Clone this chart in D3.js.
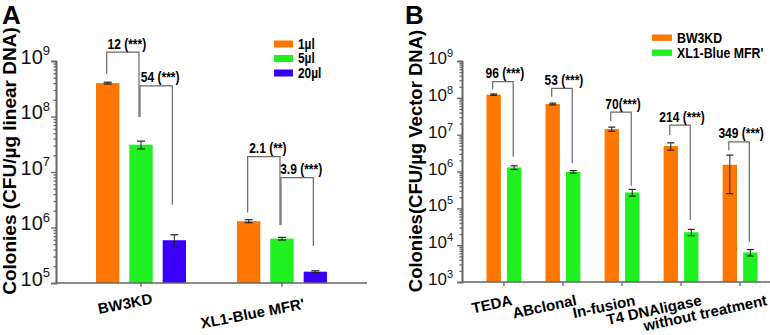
<!DOCTYPE html>
<html><head><meta charset="utf-8">
<script src="https://cdn.jsdelivr.net/npm/d3@7"></script>
<style>
body{margin:0;background:#fff;}
svg{display:block;}
text{font-family:"Liberation Sans",Arial,sans-serif;}
.nar{font-weight:bold;}
</style></head>
<body>
<svg id="c" width="770" height="335"></svg>
<script>
// ---------- Panel A data ----------
const catsA = ["BW3KD", "XL1-Blue MFR'"];
const seriesA = ["1µl", "5µl", "20µl"];
const valuesA = { "1µl": [4.0e8, 1.3e6], "5µl": [3.1e7, 6.3e5], "20µl": [5.9e5, 1.6e5] };
const errorsA = { "1µl": [1.5e7, 8e4], "5µl": [5e6, 3.5e4], "20µl": [1.5e5, 6e3] };
const colorsA = ["#ff7700", "#1ff01f", "#3a00ff"];
const yTicksA = [1e5, 1e6, 1e7, 1e8, 1e9];
// brackets: [label, cat, fromSeries, toSeries, topValue, leftEndValue, rightEndValue]
const bracketsA = [
  ["12 (***)", "BW3KD", "1µl", "5µl", 1.45e9, 5.9e8, 9.8e7],
  ["54 (***)", "BW3KD", "5µl", "20µl", 3.55e8, 9.8e7, 2.6e6],
  ["2.1 (**)", "XL1-Blue MFR'", "1µl", "5µl", 1.89e7, 1.86e6, 1.11e6],
  ["3.9 (***)", "XL1-Blue MFR'", "5µl", "20µl", 7.9e6, 1.11e6, 4.65e5]
];

// ---------- Panel B data ----------
const catsB = ["TEDA", "ABclonal", "In-fusion", "T4 DNAligase", "without treatment"];
const seriesB = ["BW3KD", "XL1-Blue MFR'"];
const valuesB = { "BW3KD": [1.22e8, 6.8e7, 1.42e7, 4.9e6, 1.52e6], "XL1-Blue MFR'": [1.28e6, 9.8e5, 2.7e5, 2.25e4, 6.35e3] };
const errorsB = { "BW3KD": [5e6, 4e6, 1.8e6, 1.1e6, 1.27e6], "XL1-Blue MFR'": [1.45e5, 8e4, 5.6e4, 4.3e3, 1.25e3] };
const colorsB = ["#ff7700", "#1ff01f"];
const yTicksB = [1e3, 1e4, 1e5, 1e6, 1e7, 1e8, 1e9];
const bracketsB = [
  ["96 (***)", "TEDA", 2.74e8, 1.71e8, 2.5e6],
  ["53 (***)", "ABclonal", 1.81e8, 1.07e8, 1.7e6],
  ["70(***)", "In-fusion", 4.1e7, 2.35e7, 4.1e5],
  ["214 (***)", "T4 DNAligase", 1.82e7, 9.8e6, 4.8e4],
  ["349 (***)", "without treatment", 6.4e6, 3.8e6, 1.23e4]
];

const svg = d3.select("#c");
const AX = "#666";

// condensed bold text drawn via a horizontal scale transform
function narrowText(g, x, y, f, fs, anchor, label) {
  return g.append("text").attr("class", "nar").attr("font-size", fs).attr("text-anchor", anchor)
    .attr("transform", `translate(${x},${y}) scale(${f},1)`).attr("fill", "#000").text(label);
}

function minorTicks(lo, hi) {
  const out = [];
  for (let e = Math.log10(lo); e < Math.log10(hi); e++)
    for (let m = 2; m <= 9; m++) out.push(m * Math.pow(10, e));
  return out;
}

function yAxis(g, y, x0, ticks, fs, ss, gap, base) {
  const ax = g.append("g").attr("transform", `translate(${x0},0)`);
  ax.call(d3.axisLeft(y).tickValues(ticks).tickSize(5).tickFormat(""));
  ax.append("g").call(d3.axisLeft(y).tickValues(minorTicks(ticks[0], ticks[ticks.length - 1])).tickSize(2.5).tickFormat(""));
  ax.selectAll("path,line").attr("stroke", AX).attr("stroke-width", 1.3);
  ax.selectAll(".domain").attr("stroke-width", 1.6);
  ticks.forEach(t => {
    const e = Math.round(Math.log10(t));
    const tx = g.append("text").attr("text-anchor", "end")
      .attr("x", x0 - gap).attr("y", y(t) + base).attr("font-size", fs).attr("fill", "#111");
    tx.append("tspan").text("10");
    tx.append("tspan").attr("font-size", ss).attr("dy", -fs * 0.42).text(e);
  });
}

function xAxis(g, x, y0, x1, cats, rot, yEndFn) {
  g.append("line").attr("x1", x.range()[0]).attr("x2", x1).attr("y1", y0).attr("y2", y0)
    .attr("stroke", AX).attr("stroke-width", 1.6);
  cats.forEach(c => {
    g.append("line").attr("x1", x(c)).attr("x2", x(c)).attr("y1", y0).attr("y2", y0 + 4)
      .attr("stroke", AX).attr("stroke-width", 1.3);
    const t = g.append("text").attr("font-size", 15).attr("font-weight", "bold")
      .attr("text-anchor", "end").attr("fill", "#000").text(c);
    const w = t.node().getComputedTextLength();
    t.attr("transform", `translate(${x(c) + 0.22 * w},${yEndFn(w)}) rotate(${rot})`);
  });
}

function errBar(g, cx, y, v, e, cap) {
  const col = "#222";
  g.append("line").attr("x1", cx).attr("x2", cx).attr("y1", y(v + e)).attr("y2", y(v - e)).attr("stroke", col).attr("stroke-width", 1);
  [v + e, v - e].forEach(q => g.append("line").attr("x1", cx - cap).attr("x2", cx + cap).attr("y1", y(q)).attr("y2", y(q)).attr("stroke", col).attr("stroke-width", 1.2));
}

function bracket(g, xl, xr, y, top, le, re, label, dx, fs) {
  const col = "#6a6a6a";
  g.append("path").attr("fill", "none").attr("stroke", col).attr("stroke-width", 1.2)
    .attr("d", `M${xl},${y(le)}V${y(top)}H${xr}V${y(re)}`);
  narrowText(g, (xl + xr) / 2 + dx, y(top) - 3.5, 0.8, fs, "middle", label);
}

// ================= Panel A =================
{
  const g = svg.append("g");
  const y = d3.scaleLog().domain([1e5, 1e9]).range([283, 61]);
  const x = d3.scalePoint().domain(catsA).range([56, 367]).padding(0.603);
  const xs = d3.scaleBand().domain(seriesA).range([-50, 50]).paddingInner(0.3).paddingOuter(0.15);
  const bw = xs.bandwidth();
  seriesA.forEach((s, si) => {
    catsA.forEach((c, ci) => {
      const v = valuesA[s][ci];
      g.append("rect").attr("x", x(c) + xs(s)).attr("width", bw)
        .attr("y", y(v)).attr("height", y(1e5) - y(v)).attr("fill", colorsA[si]);
    });
  });
  seriesA.forEach((s) => catsA.forEach((c, ci) =>
    errBar(g, x(c) + xs(s) + bw / 2, y, valuesA[s][ci], errorsA[s][ci], 4)));
  yAxis(g, y, 56, yTicksA, 20, 13, 6, 2.5);
  xAxis(g, x, 283, 367, catsA, -11, w => 283 + 15 + 0.1 * w);
  bracketsA.forEach(b => {
    const xl = x(b[1]) + xs(b[2]) + bw / 2, xr = x(b[1]) + xs(b[3]) + bw / 2;
    bracket(g, xl - 1, xr - 2, y, b[4], b[5], b[6], b[0], 4, 15);
  });
  // legend
  seriesA.forEach((s, i) => {
    const ly = 44 + i * 14.5;
    g.append("rect").attr("x", 274).attr("y", ly - 3.5).attr("width", 19).attr("height", 7).attr("fill", colorsA[i]);
    narrowText(g, 298, ly + 4.5, 0.85, 14, "start", s);
  });
  g.append("text").attr("font-size", 19).attr("font-weight", "bold").attr("text-anchor", "middle")
    .attr("transform", "translate(16,161) rotate(-90)").text("Colonies (CFU/µg linear DNA)");
  g.append("text").attr("font-size", 26).attr("font-weight", "bold").attr("x", 2).attr("y", 24).text("A");
}

// ================= Panel B =================
{
  const g = svg.append("g");
  const y = d3.scaleLog().domain([1e3, 1e9]).range([282, 61]);
  const x = d3.scalePoint().domain(catsB).range([462, 782]).padding(0.71);
  const xs = d3.scaleBand().domain(seriesB).range([-20.5, 20.5]).paddingInner(0.3).paddingOuter(0.15);
  const bw = xs.bandwidth();
  seriesB.forEach((s, si) => {
    catsB.forEach((c, ci) => {
      const v = valuesB[s][ci];
      g.append("rect").attr("x", x(c) + xs(s)).attr("width", bw)
        .attr("y", y(v)).attr("height", y(1e3) - y(v)).attr("fill", colorsB[si]);
    });
  });
  seriesB.forEach((s) => catsB.forEach((c, ci) =>
    errBar(g, x(c) + xs(s) + bw / 2, y, valuesB[s][ci], errorsB[s][ci], 3.5)));
  yAxis(g, y, 462, yTicksB, 17, 11, 9, 3);
  xAxis(g, x, 282, 770, catsB, -12, w => 305);
  bracketsB.forEach(b => {
    const xl = x(b[1]) + xs(seriesB[0]) + bw / 2, xr = x(b[1]) + xs(seriesB[1]) + bw / 2;
    bracket(g, xl - 1, xr - 1, y, b[2], b[3], b[4], b[0], 2, 15);
  });
  seriesB.forEach((s, i) => {
    const ly = 37.7 + i * 15;
    g.append("rect").attr("x", 652).attr("y", ly - 3.2).attr("width", 20).attr("height", 6.4).attr("fill", colorsB[i]);
    narrowText(g, 677, ly + 5, 0.88, 14, "start", s);
  });
  g.append("text").attr("font-size", 18.5).attr("font-weight", "bold").attr("text-anchor", "middle")
    .attr("transform", "translate(422,161) rotate(-90)").text("Colonies(CFU/µg Vector DNA)");
  g.append("text").attr("font-size", 26).attr("font-weight", "bold").attr("x", 405).attr("y", 24).text("B");
}
</script>
</body></html>
